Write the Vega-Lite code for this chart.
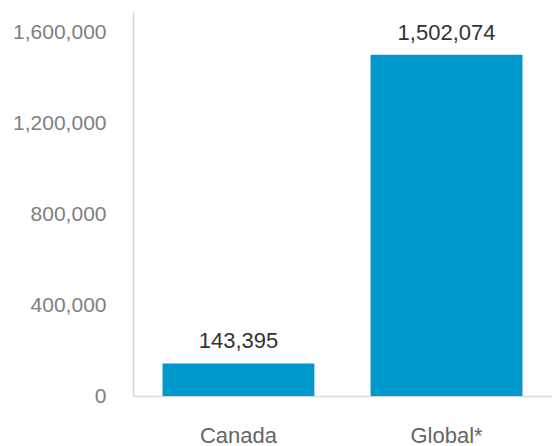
{
  "$schema": "https://vega.github.io/schema/vega-lite/v6.json",
  "autosize": "none",
  "padding": {"left": 133, "top": 12, "right": 0, "bottom": 50},
  "width": 419,
  "height": 384,
  "config": {"view": {"stroke": null}, "font": "Liberation Sans"},
  "data": {"values": [
    {"region": "Canada", "value": 143395},
    {"region": "Global*", "value": 1502074}
  ]},
  "encoding": {
    "x": {"field": "region", "type": "nominal", "sort": null,
      "scale": {"paddingInner": 0.27, "paddingOuter": 0.142},
      "axis": {"title": null, "labelAngle": 0, "ticks": false, "domainColor": "#d9d9d9", "domainWidth": 1.5,
        "labelFontSize": 22, "labelColor": "#666666", "labelPadding": 29, "labelFont": "Liberation Sans"}},
    "y": {"field": "value", "type": "quantitative",
      "scale": {"domain": [0, 1690000], "nice": false},
      "axis": {"title": null, "values": [0, 400000, 800000, 1200000, 1600000], "format": ",.0f", "grid": false, "ticks": false,
        "domainColor": "#d9d9d9", "domainWidth": 1.5, "labelFontSize": 21, "labelColor": "#808080", "labelPadding": 27,
        "labelFont": "Liberation Sans"}}
  },
  "layer": [
    {"mark": {"type": "bar", "color": "#0099cc"}},
    {"mark": {"type": "text", "baseline": "bottom", "dy": -10, "fontSize": 22, "color": "#333333", "font": "Liberation Sans"},
      "encoding": {"text": {"field": "value", "type": "quantitative", "format": ",.0f"}}}
  ]
}
